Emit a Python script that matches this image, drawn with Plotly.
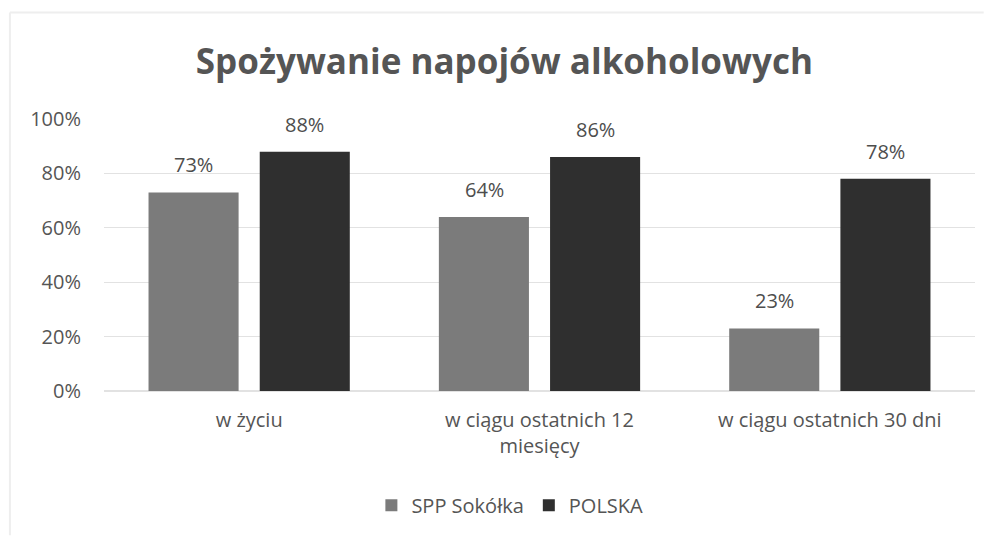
import plotly.graph_objects as go

categories = ["w życiu", "w ciągu ostatnich 12<br>miesięcy", "w ciągu ostatnich 30 dni"]
spp_sokolka = [73, 64, 23]
polska = [88, 86, 78]
tick_vals = [0, 20, 40, 60, 80, 100]
tick_text = ["0%", "20%", "40%", "60%", "80%", "100%"]

font_family = "Open Sans, Noto Sans, sans-serif"
label_color = "#4d4d4d"

series = [
    ("SPP Sokółka", spp_sokolka, "#7b7b7b", -55.5),
    ("POLSKA", polska, "#2f2f2f", 55.5),
]

fig = go.Figure()
for name, values, color, _ in series:
    fig.add_trace(go.Bar(
        name=name, x=categories, y=values,
        marker=dict(color=color, line=dict(width=0)),
    ))

# value labels above each bar
for name, values, color, dx in series:
    for cat, v in zip(categories, values):
        fig.add_annotation(
            x=cat, y=v, xref="x", yref="y", text=f"{v}%", showarrow=False,
            xshift=dx, yshift=12, yanchor="bottom", xanchor="center",
            font=dict(size=20, color=label_color, family=font_family),
        )

fig.update_layout(
    width=989, height=536,
    margin=dict(l=104, r=14, t=119, b=144),
    paper_bgcolor="white", plot_bgcolor="white",
    barmode="group", bargap=0.234, bargroupgap=0.19,
    title=dict(
        text="<b>Spożywanie napojów alkoholowych</b>",
        x=0.51, xanchor="center", y=0.885, yanchor="middle",
        font=dict(size=35, color="#555555", family=font_family),
    ),
    font=dict(family=font_family, color="#555555"),
    legend=dict(
        orientation="h", x=0.466, xanchor="center", y=-0.415, yanchor="middle",
        font=dict(size=20, color="#555555"), itemwidth=30, traceorder="normal",
    ),
    showlegend=True,
)
fig.update_yaxes(
    range=[0, 100], tickvals=tick_vals, ticktext=tick_text,
    showgrid=True, gridcolor="#e2e2e2", gridwidth=1,
    zeroline=True, zerolinecolor="#e2e2e2", showline=False,
    tickfont=dict(size=20, color="#555555"), ticks="", ticklabelstandoff=22,
)
fig.update_xaxes(
    showline=False, ticks="", ticklabelstandoff=15,
    tickfont=dict(size=20, color="#555555"),
)

# faint frame around the chart area
fig.add_shape(type="line", xref="paper", yref="paper", x0=-0.108, x1=1.01, y0=1.392, y1=1.392,
              line=dict(color="#eeeeee", width=2))
fig.add_shape(type="line", xref="paper", yref="paper", x0=-0.108, x1=-0.108, y0=1.392, y1=-0.53,
              line=dict(color="#eeeeee", width=2))

fig.write_html("out.html")
